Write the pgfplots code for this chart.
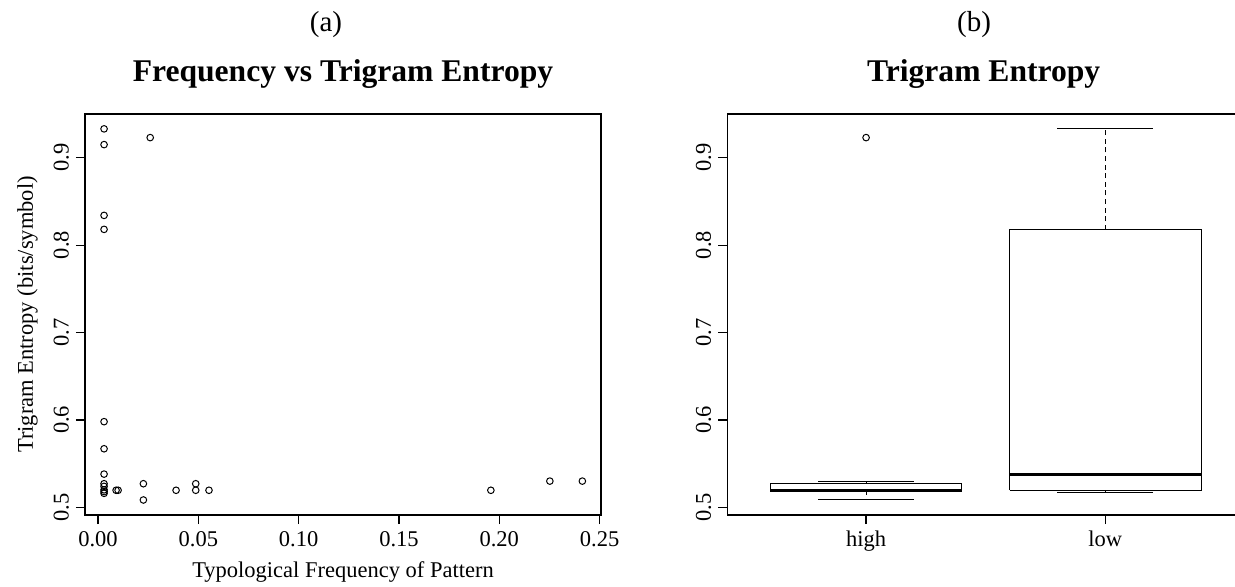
\documentclass[border=0pt]{standalone}
\usepackage{fontspec}
\setmainfont{Liberation Serif}
\usepackage{pgfplots}
\pgfplotsset{compat=1.18}
\begin{document}
\begin{tikzpicture}
\useasboundingbox (0pt,0pt) rectangle (617.5pt,293pt);
\pgfplotsset{
  rstyle/.style={
    scale only axis,
    axis line style={line width=0.6pt},
    every tick/.style={line width=0.6pt, black},
    tick align=outside,
    major tick length=4.5pt,
    tick pos=left,
    /pgf/number format/assume math mode=true,
    ticklabel style={font=\fontsize{11.25}{13}\selectfont},
    yticklabel style={rotate=90, anchor=south,
      /pgf/number format/.cd, fixed, fixed zerofill, precision=1},
    ytick={0.5,0.6,0.7,0.8,0.9},
    ymin=0.4912, ymax=0.950,
    height=200.5pt,
    title style={font=\bfseries\fontsize{15.8}{19}\selectfont,
      at={(axis description cs:0.5,1.0499)}, anchor=base},
    label style={font=\fontsize{11.25}{13}\selectfont},
  }
}
\node[font=\fontsize{14.5}{17}\selectfont, anchor=base] at (163pt,277.5pt) {(a)};
\node[font=\fontsize{14.5}{17}\selectfont, anchor=base] at (487pt,277.5pt) {(b)};

\begin{axis}[rstyle,
  at={(42.5pt,35.5pt)}, anchor=south west,
  width=258pt,
  xmin=-0.0065, xmax=0.2507,
  xtick={0,0.05,0.10,0.15,0.20,0.25},
  xticklabel style={/pgf/number format/.cd, fixed, fixed zerofill, precision=2},
  title={Frequency vs Trigram Entropy},
  xlabel={Typological Frequency of Pattern},
  ylabel={Trigram Entropy (bits/symbol)},
  xlabel style={at={(axis description cs:0.5,-0.157)}, anchor=base},
  ylabel style={at={(axis description cs:-0.101,0.5)}, anchor=base},
]
\addplot[only marks, mark=o, mark size=1.65pt, line width=0.5pt, black] coordinates {
(0.003,0.933) (0.003,0.915) (0.026,0.923) (0.003,0.834) (0.003,0.818)
(0.003,0.598) (0.003,0.567) (0.003,0.538) (0.003,0.527) (0.003,0.524)
(0.003,0.520) (0.003,0.518) (0.003,0.516) (0.009,0.5195) (0.010,0.5195)
(0.0226,0.527) (0.0226,0.5084) (0.0389,0.5195) (0.0487,0.527) (0.0487,0.5195)
(0.0553,0.5195) (0.1958,0.5195) (0.2252,0.530) (0.2414,0.530)
};
\end{axis}

\begin{axis}[rstyle,
  at={(363.65pt,35.5pt)}, anchor=south west,
  width=256.35pt,
  xmin=0.42, xmax=2.563,
  xtick={1,2}, xticklabels={high,low},
  title={Trigram Entropy},
]
% high: box (quartiles), median, whiskers and caps
\addplot[black, line width=0.5pt] coordinates {(0.6,0.5195) (1.4,0.5195) (1.4,0.527) (0.6,0.527) (0.6,0.5195)};
\addplot[black, line width=1.6pt] coordinates {(0.6,0.5195) (1.4,0.5195)};
\addplot[black, line width=0.5pt, dash pattern=on 2.5pt off 1.8pt] coordinates {(1,0.527) (1,0.530)};
\addplot[black, line width=0.5pt, dash pattern=on 2.5pt off 1.8pt] coordinates {(1,0.5195) (1,0.5084)};
\addplot[black, line width=0.5pt] coordinates {(0.8,0.530) (1.2,0.530)};
\addplot[black, line width=0.5pt] coordinates {(0.8,0.5084) (1.2,0.5084)};
\addplot[only marks, mark=o, mark size=1.65pt, line width=0.5pt, black] coordinates {(1,0.923)};
% low
\addplot[black, line width=0.5pt] coordinates {(1.6,0.5195) (2.4,0.5195) (2.4,0.8176) (1.6,0.8176) (1.6,0.5195)};
\addplot[black, line width=1.6pt] coordinates {(1.6,0.538) (2.4,0.538)};
\addplot[black, line width=0.5pt, dash pattern=on 2.5pt off 1.8pt] coordinates {(2,0.8176) (2,0.933)};
\addplot[black, line width=0.5pt, dash pattern=on 2.5pt off 1.8pt] coordinates {(2,0.5195) (2,0.5172)};
\addplot[black, line width=0.5pt] coordinates {(1.8,0.933) (2.2,0.933)};
\addplot[black, line width=0.5pt] coordinates {(1.8,0.5172) (2.2,0.5172)};
\end{axis}
\end{tikzpicture}
\end{document}
